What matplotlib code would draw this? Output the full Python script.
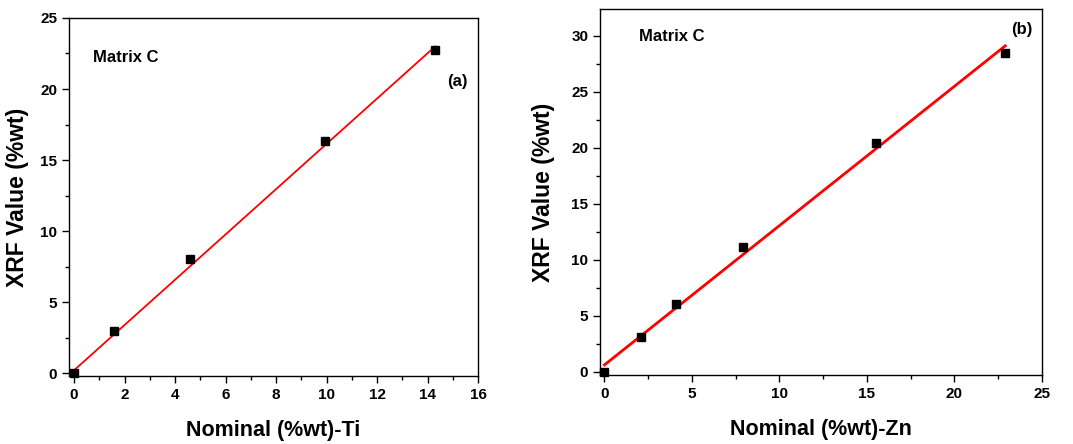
import matplotlib.pyplot as plt
import numpy as np
from matplotlib.ticker import MultipleLocator

plt.rcParams["font.family"] = ["Liberation Sans", "DejaVu Sans"]
plt.rcParams["font.weight"] = "bold"

# panel (a): Ti
ti_nominal = [0.0, 1.6, 4.58, 9.95, 14.3]
ti_xrf = [0.0, 3.0, 8.0, 16.35, 22.75]
ti_fit = (1.594, 0.2)  # slope, intercept

# panel (b): Zn
zn_nominal = [0.0, 2.1, 4.1, 7.9, 15.5, 22.9]
zn_xrf = [0.0, 3.1, 6.0, 11.1, 20.4, 28.5]
zn_fit = (1.245, 0.6)

fig = plt.figure(figsize=(10.73, 4.44), dpi=100)
ax1 = fig.add_axes([0.0643, 0.1532, 0.3812, 0.8063])
ax2 = fig.add_axes([0.5592, 0.1554, 0.4119, 0.8243])


def draw(ax, x, y, fit, lw):
    xs = np.array([min(x), max(x)])
    ax.plot(xs, fit[0] * xs + fit[1], color="red", lw=lw, zorder=2)
    ax.plot(x, y, "s", color="black", ms=5.5, zorder=3, clip_on=False)
    ax.tick_params(which="both", direction="out", labelsize=11, width=1)
    ax.tick_params(which="major", length=5)
    ax.tick_params(which="minor", length=3)
    for s in ax.spines.values():
        s.set_linewidth(1)


draw(ax1, ti_nominal, ti_xrf, ti_fit, 1.3)
ax1.set_xlim(-0.2, 16)
ax1.set_ylim(-0.2, 25)
ax1.xaxis.set_major_locator(MultipleLocator(2))
ax1.xaxis.set_minor_locator(MultipleLocator(1))
ax1.yaxis.set_major_locator(MultipleLocator(5))
ax1.yaxis.set_minor_locator(MultipleLocator(2.5))
ax1.set_xlabel("Nominal (%wt)-Ti", fontsize=15.5, fontweight="bold", labelpad=13)
ax1.set_ylabel("XRF Value (%wt)", fontsize=16.5, fontweight="bold", labelpad=8)
ax1.text(0.75, 22.25, "Matrix C", fontsize=12, fontweight="bold", va="center")
ax1.text(15.2, 20.5, "(a)", fontsize=12, fontweight="bold", va="center", ha="center")

draw(ax2, zn_nominal, zn_xrf, zn_fit, 2)
ax2.set_xlim(-0.25, 25)
ax2.set_ylim(-0.3, 32.4)
ax2.xaxis.set_major_locator(MultipleLocator(5))
ax2.xaxis.set_minor_locator(MultipleLocator(2.5))
ax2.yaxis.set_major_locator(MultipleLocator(5))
ax2.yaxis.set_minor_locator(MultipleLocator(2.5))
ax2.set_xlabel("Nominal (%wt)-Zn", fontsize=15.5, fontweight="bold", labelpad=13)
ax2.set_ylabel("XRF Value (%wt)", fontsize=16.5, fontweight="bold", labelpad=12)
ax2.text(1.95, 29.9, "Matrix C", fontsize=12, fontweight="bold", va="center")
ax2.text(23.85, 30.6, "(b)", fontsize=12, fontweight="bold", va="center", ha="center")

for ax in (ax1, ax2):
    for lab in ax.get_xticklabels() + ax.get_yticklabels():
        lab.set_fontweight("bold")

fig.savefig("out.png", dpi=100)
